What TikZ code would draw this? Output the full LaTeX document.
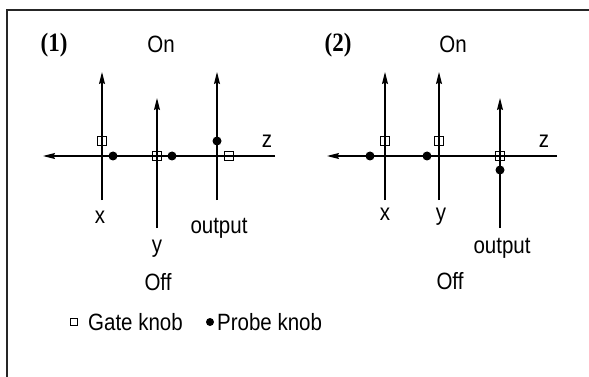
\documentclass[tikz,border=0pt]{standalone}
\usepackage{fontspec}
\setmainfont{Liberation Sans}
\newfontfamily\serifbold{Liberation Serif}
\usetikzlibrary{arrows.meta}
\newcommand\vs[1]{\scalebox{1}[1.15]{#1}}
\begin{document}
\begin{tikzpicture}[x=1pt,y=-1pt,
  lab/.style={font=\fontsize{20.5}{22}\selectfont, inner sep=0pt, anchor=base},
  num/.style={font=\serifbold\bfseries\fontsize{23}{25}\selectfont, inner sep=0pt, anchor=base},
  wire/.style={line width=1.2pt, -{Stealth[length=12pt,width=6pt,inset=1.5pt]}},
  gate/.style={draw, line width=0.9pt, rectangle, minimum size=8.5pt, inner sep=0pt},
  probe/.style={circle, fill=black, minimum size=9pt, inner sep=0pt},
  frame/.style={line width=1.6pt, black!85}]
\useasboundingbox (0,0) rectangle (589,377);
% frame
\coordinate (ftl) at (7,10);
\coordinate (ftr) at (589,10);
\coordinate (fbl) at (7,377);
\draw[frame] (ftr) -- (ftl) -- (fbl);

% ---------- panel 1 ----------
\coordinate (h1r) at (275,156); \coordinate (h1l) at (43,156);
\coordinate (x1b) at (102,200); \coordinate (x1t) at (102,72);
\coordinate (y1b) at (157,228); \coordinate (y1t) at (157,98);
\coordinate (o1b) at (217,200); \coordinate (o1t) at (217,72);
\draw[wire] (h1r) -- (h1l);
\draw[wire] (x1b) -- (x1t);
\draw[wire] (y1b) -- (y1t);
\draw[wire] (o1b) -- (o1t);
\node[gate]  (g1x) at (102,141) {};
\node[probe] (p1x) at (113,156) {};
\node[gate]  (g1y) at (157,156) {};
\node[probe] (p1y) at (172,156) {};
\node[probe] (p1o) at (217,141) {};
\node[gate]  (g1o) at (229,156) {};
\node[num] (n1) at (54,52) {\vs{(1)}};
\node[lab] (on1) at (161,53) {\vs{On}};
\node[lab] (z1) at (267,147) {\vs{z}};
\node[lab] (lx1) at (100,223) {\vs{x}};
\node[lab] (lo1) at (219,233) {\vs{output}};
\node[lab] (ly1) at (157,252) {\vs{y}};
\node[lab] (off1) at (158,290) {\vs{Off}};

% ---------- panel 2 ----------
\coordinate (h2r) at (557,156); \coordinate (h2l) at (327,156);
\coordinate (x2b) at (385,200); \coordinate (x2t) at (385,72);
\coordinate (y2b) at (439,200); \coordinate (y2t) at (439,72);
\coordinate (o2b) at (500,228); \coordinate (o2t) at (500,98);
\draw[wire] (h2r) -- (h2l);
\draw[wire] (x2b) -- (x2t);
\draw[wire] (y2b) -- (y2t);
\draw[wire] (o2b) -- (o2t);
\node[gate]  (g2x) at (385,141) {};
\node[probe] (p2x) at (370,156) {};
\node[gate]  (g2y) at (439,141) {};
\node[probe] (p2y) at (427,156) {};
\node[gate]  (g2o) at (500,156) {};
\node[probe] (p2o) at (500,170) {};
\node[num] (n2) at (338,52) {\vs{(2)}};
\node[lab] (on2) at (453,53) {\vs{On}};
\node[lab] (z2) at (544,147) {\vs{z}};
\node[lab] (lx2) at (385,220) {\vs{x}};
\node[lab] (ly2) at (441,220) {\vs{y}};
\node[lab] (lo2) at (502,253) {\vs{output}};
\node[lab] (off2) at (450,289) {\vs{Off}};

% ---------- legend ----------
\node[gate, minimum size=7.5pt, line width=0.8pt] (lg) at (74,322) {};
\node[lab, anchor=base west] (lgt) at (88,330) {\vs{Gate knob}};
\node[probe, minimum size=8pt] (lp) at (210,322) {};
\node[lab, anchor=base west] (lpt) at (217,330) {\vs{Probe knob}};
\end{tikzpicture}
\end{document}
